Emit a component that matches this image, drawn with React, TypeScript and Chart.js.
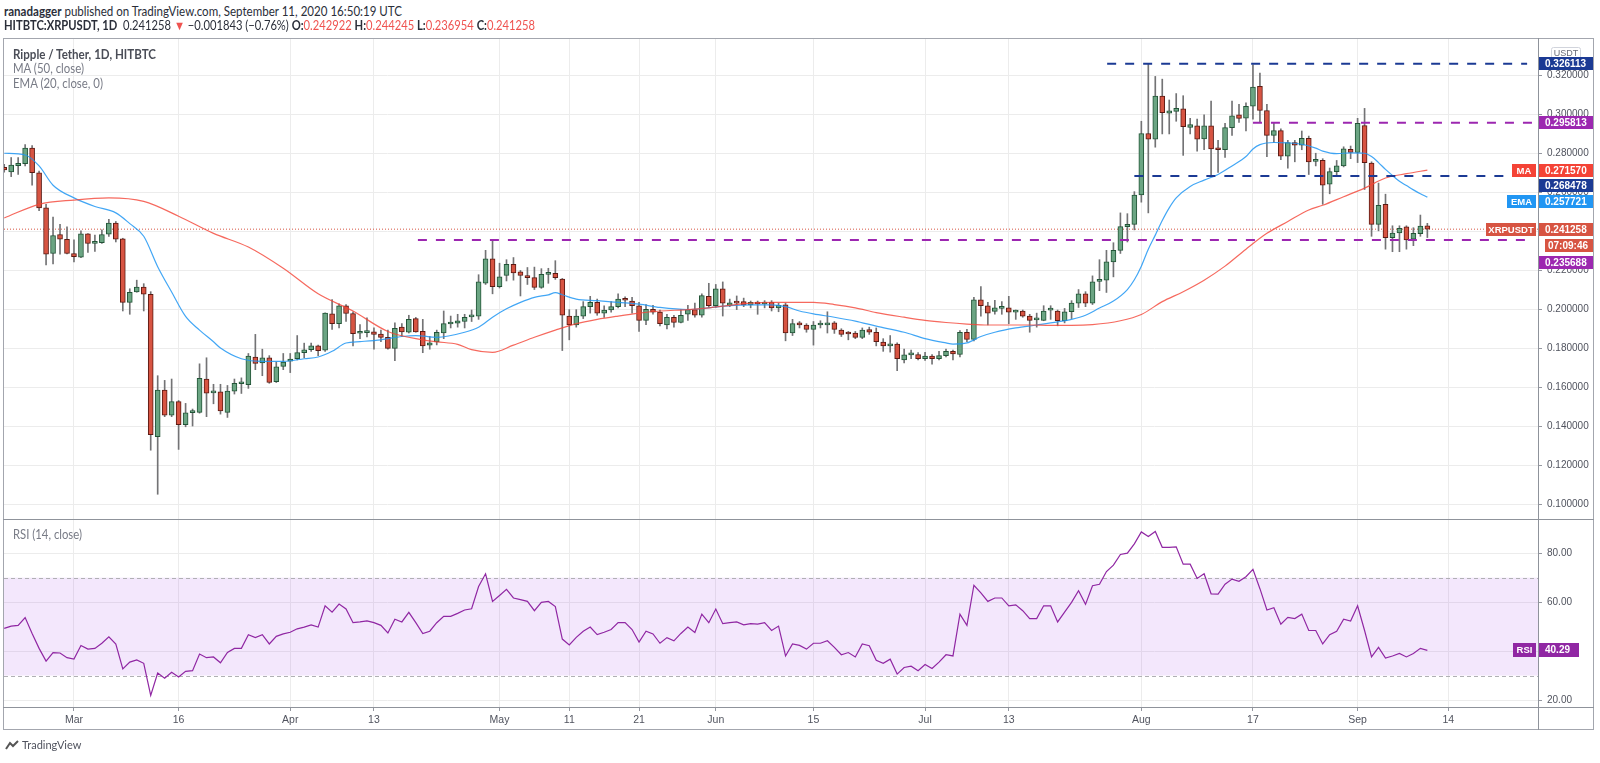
import React, { useEffect, useLayoutEffect, useRef } from "react";
import { Chart, registerables } from "chart.js";

Chart.register(...registerables);

// ---- Daily candles, Feb 20 2020 (day 0) .. Sep 11 2020 (day 204) ----
const opens = [
  0.2730, 0.2706, 0.2738, 0.2748, 0.2828, 0.2702, 0.2522, 0.2288, 0.2385, 0.2361,
  0.2288, 0.2269, 0.2389, 0.2340, 0.2343, 0.2387, 0.2444, 0.2363, 0.2037, 0.2091,
  0.2116, 0.2079, 0.1348, 0.1587, 0.1458, 0.1528, 0.1410, 0.1472, 0.1473, 0.1644,
  0.1573, 0.1578, 0.1473, 0.1582, 0.1620, 0.1615, 0.1757, 0.1727, 0.1753, 0.1630,
  0.1709, 0.1735, 0.1748, 0.1779, 0.1794, 0.1814, 0.1792, 0.1978, 0.1928, 0.2020,
  0.1980, 0.1879, 0.1882, 0.1886, 0.1875, 0.1858, 0.1801, 0.1910, 0.1884, 0.1954,
  0.1888, 0.1817, 0.1834, 0.1880, 0.1926, 0.1930, 0.1939, 0.1963, 0.1967, 0.2136,
  0.2260, 0.2118, 0.2175, 0.2232, 0.2194, 0.2175, 0.2164, 0.2114, 0.2181, 0.2186,
  0.2157, 0.1967, 0.1921, 0.1967, 0.2015, 0.2037, 0.1982, 0.1998, 0.2015, 0.2050,
  0.2044, 0.2020, 0.1945, 0.2002, 0.1987, 0.1921, 0.1961, 0.1934, 0.1976, 0.2000,
  0.1971, 0.2068, 0.2020, 0.2107, 0.2022, 0.2035, 0.2041, 0.2024, 0.2035, 0.2029,
  0.2037, 0.2009, 0.2024, 0.1880, 0.1932, 0.1921, 0.1899, 0.1921, 0.1921, 0.1932,
  0.1895, 0.1877, 0.1880, 0.1858, 0.1897, 0.1884, 0.1834, 0.1814, 0.1823, 0.1742,
  0.1768, 0.1770, 0.1748, 0.1762, 0.1748, 0.1764, 0.1786, 0.1770, 0.1884, 0.1847,
  0.2050, 0.2020, 0.1991, 0.2006, 0.2009, 0.1987, 0.1993, 0.1967, 0.1947, 0.1945,
  0.1997, 0.1993, 0.1943, 0.1989, 0.2033, 0.2081, 0.2033, 0.2145, 0.2151, 0.2245,
  0.2304, 0.2426, 0.2437, 0.2588, 0.2903, 0.2874, 0.3095, 0.3008, 0.3017, 0.3030,
  0.2934, 0.2942, 0.2876, 0.2942, 0.2826, 0.2820, 0.2933, 0.2999, 0.2982, 0.3043,
  0.3145, 0.3021, 0.2894, 0.2918, 0.2787, 0.2857, 0.2844, 0.2879, 0.2760, 0.2765,
  0.2643, 0.2708, 0.2737, 0.2822, 0.2806, 0.2944, 0.2752, 0.2437, 0.2540, 0.2369,
  0.2393, 0.2424, 0.2361, 0.2389, 0.242922,
];
const highs = [
  0.2745, 0.2780, 0.2780, 0.2846, 0.2841, 0.2710, 0.2540, 0.2474, 0.2437, 0.2424,
  0.2358, 0.2404, 0.2390, 0.2382, 0.2409, 0.2463, 0.2452, 0.2366, 0.2107, 0.2151,
  0.2133, 0.2092, 0.1661, 0.1637, 0.1644, 0.1534, 0.1519, 0.1490, 0.1722, 0.1753,
  0.1617, 0.1617, 0.1611, 0.1644, 0.1650, 0.1775, 0.1873, 0.1797, 0.1764, 0.1731,
  0.1775, 0.1775, 0.1867, 0.1828, 0.1828, 0.1818, 0.1984, 0.2052, 0.2030, 0.2026,
  0.1989, 0.1923, 0.1958, 0.1906, 0.1895, 0.1895, 0.1932, 0.1928, 0.1971, 0.1960,
  0.1950, 0.1862, 0.1895, 0.1993, 0.1967, 0.1976, 0.1976, 0.1998, 0.2179, 0.2304,
  0.2354, 0.2238, 0.2256, 0.2267, 0.2201, 0.2216, 0.2218, 0.2210, 0.2212, 0.2251,
  0.2160, 0.2000, 0.2000, 0.2041, 0.2068, 0.2054, 0.2020, 0.2041, 0.2081, 0.2065,
  0.2063, 0.2037, 0.2026, 0.2022, 0.1998, 0.1976, 0.1971, 0.2000, 0.2022, 0.2033,
  0.2081, 0.2135, 0.2129, 0.2142, 0.2054, 0.2070, 0.2059, 0.2044, 0.2044, 0.2046,
  0.2046, 0.2033, 0.2033, 0.1950, 0.1939, 0.1928, 0.1939, 0.1943, 0.1989, 0.1939,
  0.1902, 0.1888, 0.1888, 0.1906, 0.1910, 0.1906, 0.1851, 0.1867, 0.1829, 0.1797,
  0.1792, 0.1779, 0.1781, 0.1770, 0.1786, 0.1797, 0.1792, 0.1893, 0.1899, 0.2063,
  0.2118, 0.2037, 0.2048, 0.2041, 0.2068, 0.1998, 0.1998, 0.1976, 0.1982, 0.2020,
  0.2020, 0.1998, 0.2006, 0.2046, 0.2103, 0.2092, 0.2173, 0.2256, 0.2304, 0.2343,
  0.2496, 0.2492, 0.2605, 0.2966, 0.3261, 0.3196, 0.3182, 0.3075, 0.3108, 0.3097,
  0.2981, 0.2977, 0.2999, 0.3069, 0.2868, 0.2955, 0.3069, 0.3053, 0.3060, 0.3255,
  0.3213, 0.3053, 0.2955, 0.2927, 0.2868, 0.2868, 0.2916, 0.2890, 0.2802, 0.2774,
  0.2726, 0.2765, 0.2835, 0.2839, 0.2981, 0.3032, 0.2758, 0.2649, 0.2592, 0.2430,
  0.2430, 0.2430, 0.2420, 0.2485, 0.244245,
];
const lows = [
  0.2705, 0.2682, 0.2693, 0.2737, 0.2638, 0.2507, 0.2229, 0.2234, 0.2284, 0.2286,
  0.2245, 0.2267, 0.2293, 0.2299, 0.2339, 0.2376, 0.2347, 0.1993, 0.1976, 0.2089,
  0.1993, 0.1279, 0.1053, 0.1451, 0.1451, 0.1283, 0.1399, 0.1403, 0.1469, 0.1451,
  0.1517, 0.1464, 0.1447, 0.1567, 0.1570, 0.1596, 0.1692, 0.1661, 0.1622, 0.1626,
  0.1692, 0.1677, 0.1742, 0.1753, 0.1786, 0.1764, 0.1786, 0.1899, 0.1906, 0.1939,
  0.1814, 0.1851, 0.1860, 0.1797, 0.1836, 0.1797, 0.1738, 0.1862, 0.1880, 0.1884,
  0.1779, 0.1797, 0.1819, 0.1851, 0.1906, 0.1910, 0.1906, 0.1939, 0.1950, 0.2129,
  0.2081, 0.2111, 0.2147, 0.2151, 0.2070, 0.2129, 0.2103, 0.2109, 0.2135, 0.2155,
  0.1790, 0.1845, 0.1910, 0.1954, 0.1982, 0.1971, 0.1960, 0.1987, 0.2009, 0.2015,
  0.1982, 0.1888, 0.1923, 0.1976, 0.1917, 0.1901, 0.1910, 0.1932, 0.1945, 0.1961,
  0.1961, 0.2011, 0.2011, 0.1967, 0.2015, 0.2000, 0.2015, 0.2009, 0.1976, 0.2009,
  0.1993, 0.1989, 0.1840, 0.1867, 0.1906, 0.1884, 0.1818, 0.1906, 0.1880, 0.1878,
  0.1862, 0.1845, 0.1851, 0.1851, 0.1873, 0.1814, 0.1786, 0.1782, 0.1687, 0.1727,
  0.1748, 0.1742, 0.1740, 0.1720, 0.1742, 0.1757, 0.1742, 0.1757, 0.1836, 0.1840,
  0.1967, 0.1921, 0.1976, 0.1976, 0.1928, 0.1950, 0.1961, 0.1884, 0.1910, 0.1943,
  0.1950, 0.1917, 0.1932, 0.1954, 0.2011, 0.2015, 0.2026, 0.2097, 0.2088, 0.2168,
  0.2288, 0.2347, 0.2409, 0.2551, 0.2496, 0.2833, 0.2901, 0.2901, 0.2966, 0.2791,
  0.2901, 0.2813, 0.2820, 0.2688, 0.2704, 0.2780, 0.2894, 0.2960, 0.2916, 0.2977,
  0.2960, 0.2785, 0.2857, 0.2769, 0.2726, 0.2758, 0.2820, 0.2693, 0.2737, 0.2540,
  0.2594, 0.2688, 0.2732, 0.2774, 0.2754, 0.2616, 0.2376, 0.2404, 0.2310, 0.2297,
  0.2297, 0.2310, 0.2328, 0.2376, 0.236954,
];
const closes = [
  0.2716, 0.2741, 0.2750, 0.2828, 0.2702, 0.2522, 0.2284, 0.2380, 0.2361, 0.2288,
  0.2271, 0.2389, 0.2339, 0.2342, 0.2385, 0.2444, 0.2361, 0.2037, 0.2089, 0.2116,
  0.2079, 0.1359, 0.1587, 0.1458, 0.1528, 0.1410, 0.1471, 0.1476, 0.1648, 0.1571,
  0.1575, 0.1480, 0.1582, 0.1622, 0.1623, 0.1762, 0.1724, 0.1753, 0.1626, 0.1707,
  0.1731, 0.1746, 0.1779, 0.1794, 0.1814, 0.1790, 0.1982, 0.1928, 0.2020, 0.1980,
  0.1877, 0.1881, 0.1886, 0.1873, 0.1858, 0.1801, 0.1904, 0.1886, 0.1950, 0.1886,
  0.1814, 0.1830, 0.1884, 0.1928, 0.1928, 0.1943, 0.1961, 0.1965, 0.2142, 0.2260,
  0.2118, 0.2168, 0.2232, 0.2188, 0.2175, 0.2164, 0.2114, 0.2181, 0.2183, 0.2164,
  0.1971, 0.1921, 0.1967, 0.2015, 0.2037, 0.1982, 0.1998, 0.2015, 0.2054, 0.2048,
  0.2020, 0.1945, 0.2002, 0.1987, 0.1928, 0.1961, 0.1934, 0.1971, 0.2000, 0.1971,
  0.2072, 0.2020, 0.2107, 0.2033, 0.2035, 0.2033, 0.2024, 0.2037, 0.2029, 0.2037,
  0.2009, 0.2022, 0.1880, 0.1928, 0.1921, 0.1899, 0.1921, 0.1923, 0.1932, 0.1899,
  0.1873, 0.1875, 0.1858, 0.1895, 0.1884, 0.1836, 0.1814, 0.1823, 0.1748, 0.1768,
  0.1770, 0.1748, 0.1762, 0.1748, 0.1764, 0.1786, 0.1773, 0.1884, 0.1847, 0.2050,
  0.2020, 0.1982, 0.2009, 0.2007, 0.1987, 0.1993, 0.1967, 0.1945, 0.1950, 0.1993,
  0.1998, 0.1943, 0.1989, 0.2033, 0.2081, 0.2033, 0.2142, 0.2151, 0.2245, 0.2304,
  0.2426, 0.2437, 0.2588, 0.2903, 0.2874, 0.3095, 0.3010, 0.3019, 0.3032, 0.2938,
  0.2949, 0.2874, 0.2942, 0.2824, 0.2820, 0.2933, 0.2994, 0.2981, 0.3043, 0.3141,
  0.3021, 0.2894, 0.2918, 0.2787, 0.2857, 0.2844, 0.2879, 0.2758, 0.2761, 0.2638,
  0.2708, 0.2737, 0.2824, 0.2806, 0.2955, 0.2754, 0.2437, 0.2535, 0.2369, 0.2393,
  0.2417, 0.2358, 0.2391, 0.2428, 0.241258,
];

// ---- RSI (14, close), one value per day ----
const rsiValues = [
  49.3, 50.2, 50.5, 53.7, 47.2, 41.1, 35.9, 39.4, 39.2, 37.3,
  36.7, 42.3, 40.8, 41.1, 43.2, 45.8, 42.9, 32.7, 35.5, 36.4,
  35.0, 21.9, 31.0, 28.9, 31.3, 29.4, 31.7, 32.0, 38.8, 37.3,
  37.6, 35.2, 39.4, 41.1, 41.1, 46.7, 45.5, 46.7, 42.9, 46.0,
  47.0, 47.7, 49.1, 49.8, 50.7, 49.8, 58.5, 55.9, 59.2, 57.2,
  51.6, 51.9, 52.3, 51.6, 50.5, 47.4, 53.0, 51.9, 55.8, 51.6,
  47.2, 48.1, 51.6, 54.2, 54.2, 55.4, 56.8, 57.3, 66.4, 71.6,
  60.3, 62.7, 65.2, 61.7, 61.0, 60.3, 56.5, 59.9, 60.3, 58.2,
  44.9, 42.5, 45.6, 48.1, 49.8, 46.7, 47.7, 48.8, 51.6, 51.6,
  48.8, 43.7, 48.1, 47.0, 43.2, 45.5, 44.2, 47.2, 49.8, 47.6,
  55.1, 51.6, 57.2, 51.2, 51.6, 51.9, 50.7, 51.2, 51.0, 51.6,
  48.4, 50.2, 38.0, 42.9, 42.3, 40.8, 43.2, 43.2, 44.2, 41.5,
  38.5, 39.4, 37.6, 42.9, 42.2, 36.2, 35.0, 36.7, 30.6, 33.3,
  33.8, 32.0, 34.5, 32.9, 35.5, 38.5, 38.0, 55.1, 50.5, 66.9,
  63.8, 60.3, 61.7, 61.7, 58.5, 58.9, 56.5, 53.3, 53.3, 58.5,
  58.5, 51.9, 55.9, 59.9, 64.7, 59.1, 66.7, 67.3, 72.5, 75.1,
  79.5, 80.0, 83.8, 88.7, 86.8, 88.9, 82.4, 82.4, 82.6, 75.5,
  75.5, 69.7, 71.6, 63.4, 63.3, 67.3, 69.4, 68.5, 70.4, 73.4,
  65.5, 56.8, 57.7, 51.0, 53.8, 53.3, 55.1, 48.4, 48.4, 42.9,
  46.7, 48.1, 53.0, 52.3, 58.5, 48.4, 37.6, 41.5, 37.1, 38.0,
  39.0, 37.6, 39.0, 41.1, 40.29,
];

// ---- MA (50, close) at these days ----
const maDays = [0, 5, 10, 15, 20, 25, 30, 35, 40, 45, 50, 55, 60, 62, 65, 67, 70, 73, 76, 79, 82, 85, 88, 91, 94, 98, 101, 104, 107, 110, 113, 116, 119, 122, 125, 129, 132, 135, 138, 141, 144, 147, 150, 153, 156, 160, 163, 166, 169, 172, 175, 178, 181, 184, 187, 189, 192, 195, 198, 201, 204];
const maValues = [0.2470, 0.2540, 0.2562, 0.2573, 0.2555, 0.2479, 0.2391, 0.2321, 0.2212, 0.2081, 0.1993, 0.1888, 0.1845, 0.1835, 0.1822, 0.1795, 0.1781, 0.1818, 0.1858, 0.1895, 0.1928, 0.1950, 0.1967, 0.1982, 0.1993, 0.2000, 0.2009, 0.2022, 0.2033, 0.2037, 0.2037, 0.2037, 0.2026, 0.2009, 0.1985, 0.1961, 0.1945, 0.1934, 0.1926, 0.1921, 0.1921, 0.1921, 0.1919, 0.1919, 0.1923, 0.1943, 0.1975, 0.2041, 0.2092, 0.2151, 0.2223, 0.2310, 0.2391, 0.2452, 0.2511, 0.2535, 0.2579, 0.2623, 0.2675, 0.2697, 0.27157];

// ---- EMA (20, close, 0) at these days ----
const emaDays = [0, 3, 5, 7, 10, 13, 16, 18, 20, 22, 24, 26, 28, 30, 31, 34, 37, 40, 43, 45, 47, 49, 51, 54, 57, 59, 62, 66, 68, 70, 72, 74, 76, 78, 79, 80, 82, 85, 88, 91, 94, 98, 101, 104, 107, 110, 112, 114, 116, 119, 122, 125, 129, 132, 135, 136, 138, 140, 142, 145, 148, 151, 153, 155, 157, 159, 161, 162, 163, 164, 165, 166, 167, 168, 170, 172, 174, 176, 178, 179, 180, 182, 184, 186, 188, 189, 191, 193, 195, 196, 197, 198, 199, 200, 201, 202, 203, 204];
const emaValues = [0.2802, 0.2793, 0.2737, 0.2638, 0.2573, 0.2529, 0.2496, 0.2441, 0.2376, 0.2220, 0.2090, 0.1965, 0.1895, 0.1835, 0.1803, 0.1748, 0.1735, 0.1735, 0.1748, 0.1757, 0.1786, 0.1829, 0.1836, 0.1845, 0.1862, 0.1867, 0.1858, 0.1884, 0.1910, 0.1961, 0.2004, 0.2037, 0.2063, 0.2076, 0.2087, 0.2076, 0.2054, 0.2046, 0.2037, 0.2028, 0.2011, 0.2000, 0.2009, 0.2020, 0.2024, 0.2024, 0.2015, 0.1993, 0.1978, 0.1961, 0.1941, 0.1915, 0.1884, 0.1851, 0.1829, 0.1823, 0.1829, 0.1862, 0.1884, 0.1906, 0.1921, 0.1937, 0.1950, 0.1971, 0.2008, 0.2044, 0.2103, 0.2153, 0.2223, 0.2310, 0.2382, 0.2457, 0.2522, 0.2573, 0.2632, 0.2664, 0.2693, 0.2737, 0.2785, 0.2824, 0.2846, 0.2857, 0.2855, 0.2848, 0.2828, 0.2813, 0.2800, 0.2804, 0.2802, 0.2785, 0.2754, 0.2719, 0.2688, 0.2658, 0.2636, 0.2614, 0.2594, 0.2577];

// ---- Horizontal levels ----
const levelValues = [0.326113, 0.295813, 0.268478, 0.235688];
const levelStartDays = [158.1, 179.0, 162.0, 59.3];
const levelEndDays = [218.3, 219.86, 218.3, 218.3];

// ---- Axis ticks ----
const dateTickDays = [10, 25, 41, 53, 71, 81, 91, 102, 116, 132, 144, 163, 179, 194, 207];
const dateTickLabels = ["Mar", "16", "Apr", "13", "May", "11", "21", "Jun", "15", "Jul", "13", "Aug", "17", "Sep", "14"];
const priceTicks = [0.10, 0.12, 0.14, 0.16, 0.18, 0.20, 0.22, 0.24, 0.26, 0.28, 0.30, 0.32];
const rsiTicks = [20, 40, 60, 80];
const rsiBand = [30, 70];

// ---- Last values shown on the price scale ----
const lastPrice = 0.241258;
const lastMA = 0.27157;
const lastEMA = 0.257721;
const lastRSI = 40.29;
const countdown = "07:09:46";

// ---- Styling ----
const X_MIN = -0.03;
const X_MAX = 219.86;
const PRICE_MIN = 0.0921;
const PRICE_MAX = 0.3393;
const RSI_MIN = 17.14;
const RSI_MAX = 93.57;

const UP = "#6ba583";
const DOWN = "#d75442";
const UP_BORDER = "#225437";
const DOWN_BORDER = "#5b1a13";
const WICK = "#737375";
const GRID = "#ececec";
const NAVY = "#1b3a94";
const PURPLE = "#9c27b0";
const MA_COLOR = "#f44336";
const EMA_COLOR = "#2196f3";
const PRICE_COLOR = "#d75442";
const RSI_COLOR = "#9027a3";
const AXIS_TEXT = "#50535e";
const FONT = "'Liberation Sans', Arial, sans-serif";
const TEXT_FONT = "Lato, 'Liberation Sans', sans-serif";

const tagValues = [0.326113, 0.295813, lastMA, 0.268478, lastEMA, lastPrice, 0.235688];
const tagColors = [NAVY, PURPLE, MA_COLOR, NAVY, EMA_COLOR, PRICE_COLOR, PURPLE];
const tagNames = ["", "", "MA", "", "EMA", "XRPUSDT", ""];
const tagNameWidths = [0, 0, 24, 0, 29, 50, 0];

function drawBox(ctx: CanvasRenderingContext2D, x: number, yc: number, w: number, h: number, bg: string, text: string, font: string, align: "left" | "center", tx: number) {
  ctx.fillStyle = bg;
  ctx.fillRect(x, Math.round(yc - h / 2), w, h);
  ctx.fillStyle = "#ffffff";
  ctx.font = font;
  ctx.textBaseline = "middle";
  ctx.textAlign = align;
  ctx.fillText(text, tx, Math.round(yc - h / 2) + h / 2 + 0.5);
}

const mainTagsPlugin = {
  id: "mainTags",
  afterDraw(chart: any) {
    const ctx: CanvasRenderingContext2D = chart.ctx;
    const yScale = chart.scales.y;
    const right = chart.chartArea.right;
    ctx.save();
    ctx.fillStyle = "#ffffff";
    ctx.strokeStyle = "#d1d4dc";
    ctx.lineWidth = 1;
    ctx.beginPath();
    (ctx as any).roundRect(1551.5, 24.5, 29, 12, 2);
    ctx.fill();
    ctx.stroke();
    ctx.fillStyle = "#6a6d78";
    ctx.font = `9px ${FONT}`;
    ctx.textAlign = "center";
    ctx.textBaseline = "middle";
    ctx.fillText("USDT", 1566, 31);

    const H = 13;
    const STEP = 15.5;
    const items = tagValues.map((v, i) => ({ i, y: yScale.getPixelForValue(v) }));
    items.sort((a, b) => a.y - b.y);
    let prevBottom = -1e9;
    for (const it of items) {
      const y = Math.max(it.y, prevBottom + STEP);
      const i = it.i;
      drawBox(ctx, right, y, 56, H, tagColors[i], tagValues[i].toFixed(6), `bold 10px ${FONT}`, "left", right + 7);
      if (tagNames[i]) {
        const w = tagNameWidths[i];
        drawBox(ctx, right - 2 - w, y, w, H, tagColors[i], tagNames[i], `bold 9.5px ${FONT}`, "center", right - 2 - w / 2);
      }
      prevBottom = y;
      if (tagValues[i] === lastPrice) {
        const yc = y + STEP + 1;
        drawBox(ctx, right + 7, yc, 48, H, PRICE_COLOR, countdown, `bold 10px ${FONT}`, "left", right + 10);
        prevBottom = yc + 1;
      }
    }
    ctx.restore();
  },
};

const rsiPlugin = {
  id: "rsiBand",
  beforeDatasetsDraw(chart: any) {
    const ctx: CanvasRenderingContext2D = chart.ctx;
    const { left, right } = chart.chartArea;
    const y = chart.scales.y;
    const yTop = y.getPixelForValue(rsiBand[1]);
    const yBot = y.getPixelForValue(rsiBand[0]);
    ctx.save();
    ctx.fillStyle = "rgba(176, 96, 236, 0.15)";
    ctx.fillRect(left, yTop, right - left, yBot - yTop);
    ctx.strokeStyle = "#b0b0b4";
    ctx.lineWidth = 1;
    ctx.setLineDash([4, 3]);
    for (const yy of [yTop, yBot]) {
      ctx.beginPath();
      ctx.moveTo(left, Math.round(yy) + 0.5);
      ctx.lineTo(right, Math.round(yy) + 0.5);
      ctx.stroke();
    }
    ctx.restore();
  },
  afterDraw(chart: any) {
    const ctx: CanvasRenderingContext2D = chart.ctx;
    const right = chart.chartArea.right;
    const yc = chart.scales.y.getPixelForValue(lastRSI);
    ctx.save();
    drawBox(ctx, right - 25, yc, 23, 14, RSI_COLOR, "RSI", `bold 9.5px ${FONT}`, "center", right - 13.5);
    drawBox(ctx, right, yc, 41, 14, RSI_COLOR, lastRSI.toFixed(2), `bold 10px ${FONT}`, "left", right + 7);
    ctx.restore();
  },
};

function xAxis(showLabels: boolean, height: number) {
  return {
    type: "linear" as const,
    min: X_MIN,
    max: X_MAX,
    offset: false,
    position: "bottom" as const,
    grid: { color: GRID, offset: false, drawTicks: showLabels, tickLength: 4, tickColor: "#9598a1" },
    border: { display: false },
    ticks: {
      display: showLabels,
      autoSkip: false,
      maxRotation: 0,
      padding: 3,
      color: AXIS_TEXT,
      font: { family: FONT, size: 10.5 },
      callback: (v: any) => {
        const k = dateTickDays.indexOf(Number(v));
        return k >= 0 ? dateTickLabels[k] : "";
      },
    },
    afterBuildTicks: (s: any) => {
      s.ticks = dateTickDays.map((v) => ({ value: v }));
    },
    afterFit: (s: any) => {
      s.height = height;
    },
  };
}

// Text line stretched horizontally to the width it has in the reference.
function FitText(props: { left: number; top: number; width: number; style?: React.CSSProperties; children: React.ReactNode }) {
  const ref = useRef<HTMLDivElement>(null);
  useLayoutEffect(() => {
    const el = ref.current;
    if (!el) return;
    el.style.transform = "none";
    const w = el.getBoundingClientRect().width;
    if (w > 0) el.style.transform = `scaleX(${props.width / w})`;
  }, [props.width]);
  return (
    <div
      ref={ref}
      style={{
        position: "absolute",
        left: props.left,
        top: props.top,
        whiteSpace: "nowrap",
        transformOrigin: "0 50%",
        lineHeight: "16px",
        pointerEvents: "none",
        ...props.style,
      }}
    >
      {props.children}
    </div>
  );
}

export default function App() {
  const mainRef = useRef<HTMLCanvasElement>(null);
  const rsiRef = useRef<HTMLCanvasElement>(null);

  useEffect(() => {
    const bodyColors = closes.map((c, i) => (c >= opens[i] ? UP : DOWN));
    const bodyBorders = closes.map((c, i) => (c >= opens[i] ? UP_BORDER : DOWN_BORDER));

    const levelDatasets = levelValues.map((v, k) => ({
      type: "line" as const,
      label: `level ${v}`,
      data: [
        { x: levelStartDays[k], y: v },
        { x: levelEndDays[k], y: v },
      ],
      borderColor: k % 2 === 0 ? NAVY : PURPLE,
      borderWidth: 2,
      borderDash: [9, 9],
      pointRadius: 0,
      order: 0,
    }));

    const main = new Chart(mainRef.current as HTMLCanvasElement, {
      type: "bar",
      data: {
        datasets: [
          ...levelDatasets,
          {
            type: "line",
            label: "MA (50, close)",
            data: maDays.map((d, k) => ({ x: d, y: maValues[k] })),
            borderColor: "rgba(244, 67, 54, 0.8)",
            borderWidth: 1.2,
            pointRadius: 0,
            cubicInterpolationMode: "monotone",
            order: 1,
          },
          {
            type: "line",
            label: "EMA (20, close, 0)",
            data: emaDays.map((d, k) => ({ x: d, y: emaValues[k] })),
            borderColor: "rgba(33, 150, 243, 0.85)",
            borderWidth: 1.2,
            pointRadius: 0,
            cubicInterpolationMode: "monotone",
            order: 1,
          },
          {
            type: "line",
            label: "last price",
            data: [
              { x: X_MIN, y: lastPrice },
              { x: X_MAX, y: lastPrice },
            ],
            borderColor: PRICE_COLOR,
            borderWidth: 1,
            borderDash: [1, 2],
            pointRadius: 0,
            order: 5,
          },
          {
            type: "bar",
            label: "wicks",
            data: highs.map((h, i) => ({ x: i, y: [lows[i], h] })) as any,
            backgroundColor: WICK,
            barThickness: 1,
            grouped: false,
            order: 4,
          },
          {
            type: "bar",
            label: "XRPUSDT",
            data: opens.map((o, i) => ({ x: i, y: [o, closes[i]] })) as any,
            backgroundColor: bodyColors,
            borderColor: bodyBorders,
            borderWidth: 1,
            borderSkipped: false,
            barThickness: 5,
            minBarLength: 2,
            grouped: false,
            order: 3,
          },
        ] as any,
      },
      options: {
        responsive: false,
        animation: false,
        events: [],
        layout: { padding: { left: 4, right: 6, top: 15, bottom: 15 } },
        plugins: { legend: { display: false }, tooltip: { enabled: false } },
        scales: {
          x: xAxis(false, 0) as any,
          y: {
            type: "linear",
            position: "right",
            min: PRICE_MIN,
            max: PRICE_MAX,
            grid: { color: GRID, tickLength: 4, tickColor: "#9598a1" },
            border: { display: false },
            ticks: {
              color: AXIS_TEXT,
              padding: 5,
              font: { family: FONT, size: 10 },
              callback: (v: any) => Number(v).toFixed(6),
            },
            afterBuildTicks: (s: any) => {
              s.ticks = priceTicks.map((v) => ({ value: v }));
            },
            afterFit: (s: any) => {
              s.width = 56;
            },
          },
        },
      },
      plugins: [mainTagsPlugin],
    });

    const rsiChart = new Chart(rsiRef.current as HTMLCanvasElement, {
      type: "line",
      data: {
        datasets: [
          {
            label: "RSI (14, close)",
            data: rsiValues.map((v, i) => ({ x: i, y: v })),
            borderColor: RSI_COLOR,
            borderWidth: 1.2,
            pointRadius: 0,
            tension: 0,
          },
        ],
      },
      options: {
        responsive: false,
        animation: false,
        events: [],
        layout: { padding: { left: 4, right: 6, top: 15, bottom: 15 } },
        plugins: { legend: { display: false }, tooltip: { enabled: false } },
        scales: {
          x: xAxis(true, 23) as any,
          y: {
            type: "linear",
            position: "right",
            min: RSI_MIN,
            max: RSI_MAX,
            grid: { color: GRID, tickLength: 4, tickColor: "#9598a1" },
            border: { display: false },
            ticks: {
              color: AXIS_TEXT,
              padding: 5,
              font: { family: FONT, size: 10 },
              callback: (v: any) => Number(v).toFixed(2),
            },
            afterBuildTicks: (s: any) => {
              s.ticks = rsiTicks.map((v) => ({ value: v }));
            },
            afterFit: (s: any) => {
              s.width = 56;
            },
          },
        },
      },
      plugins: [rsiPlugin],
    });

    return () => {
      main.destroy();
      rsiChart.destroy();
    };
  }, []);

  const abs = (o: React.CSSProperties): React.CSSProperties => ({ position: "absolute", pointerEvents: "none", ...o });
  const red = { color: "#ef5350" };
  const headerStyle: React.CSSProperties = { fontSize: 12.5, color: "#2a2e39" };
  const legendStyle: React.CSSProperties = { fontSize: 12.5, color: "#787b86" };

  return (
    <div style={abs({ left: 0, top: 0, width: 1600, height: 763, background: "#ffffff", fontFamily: TEXT_FONT, overflow: "hidden" })}>
      <canvas ref={mainRef} width={1600} height={512} style={abs({ left: 0, top: 23 })} />
      <canvas ref={rsiRef} width={1600} height={240} style={abs({ left: 0, top: 505 })} />

      {/* frame and separators */}
      <div style={abs({ left: 3, top: 38, width: 1591, height: 692, border: "1px solid #a3a6ae", boxSizing: "border-box" })} />
      <div style={abs({ left: 3, top: 519, width: 1591, height: 1, background: "#8f939b" })} />
      <div style={abs({ left: 3, top: 707, width: 1591, height: 1, background: "#8f939b" })} />
      <div style={abs({ left: 1538, top: 38, width: 1, height: 692, background: "#8f939b" })} />

      {/* header */}
      <FitText left={4} top={4} width={398} style={headerStyle}>
        <b>ranadagger</b> published on TradingView.com, September 11, 2020 16:50:19 UTC
      </FitText>
      <FitText left={4} top={18} width={531} style={headerStyle}>
        <b>HITBTC:XRPUSDT, 1D</b>&nbsp; 0.241258 <span style={red}>▼</span> −0.001843 (−0.76%) <b>O:</b>
        <span style={red}>0.242922</span> <b>H:</b>
        <span style={red}>0.244245</span> <b>L:</b>
        <span style={red}>0.236954</span> <b>C:</b>
        <span style={red}>0.241258</span>
      </FitText>

      {/* pane legends */}
      <FitText left={13} top={46} width={143} style={{ fontSize: 13, color: "#4a4d57", fontWeight: 700 }}>
        Ripple / Tether, 1D, HITBTC
      </FitText>
      <FitText left={13} top={61} width={71} style={legendStyle}>MA (50, close)</FitText>
      <FitText left={13} top={76} width={90} style={legendStyle}>EMA (20, close, 0)</FitText>
      <FitText left={13} top={527} width={69} style={legendStyle}>RSI (14, close)</FitText>

      {/* logo */}
      <svg style={abs({ left: 5, top: 740 })} width="15" height="10" viewBox="0 0 15 10">
        <path d="M1 9 L5 3 L8 6 L13 1" stroke="#555" strokeWidth="2" fill="none" />
      </svg>
      <div style={abs({ left: 22, top: 738, fontSize: 11, lineHeight: "14px", color: "#50535e", whiteSpace: "nowrap" })}>TradingView</div>
    </div>
  );
}
